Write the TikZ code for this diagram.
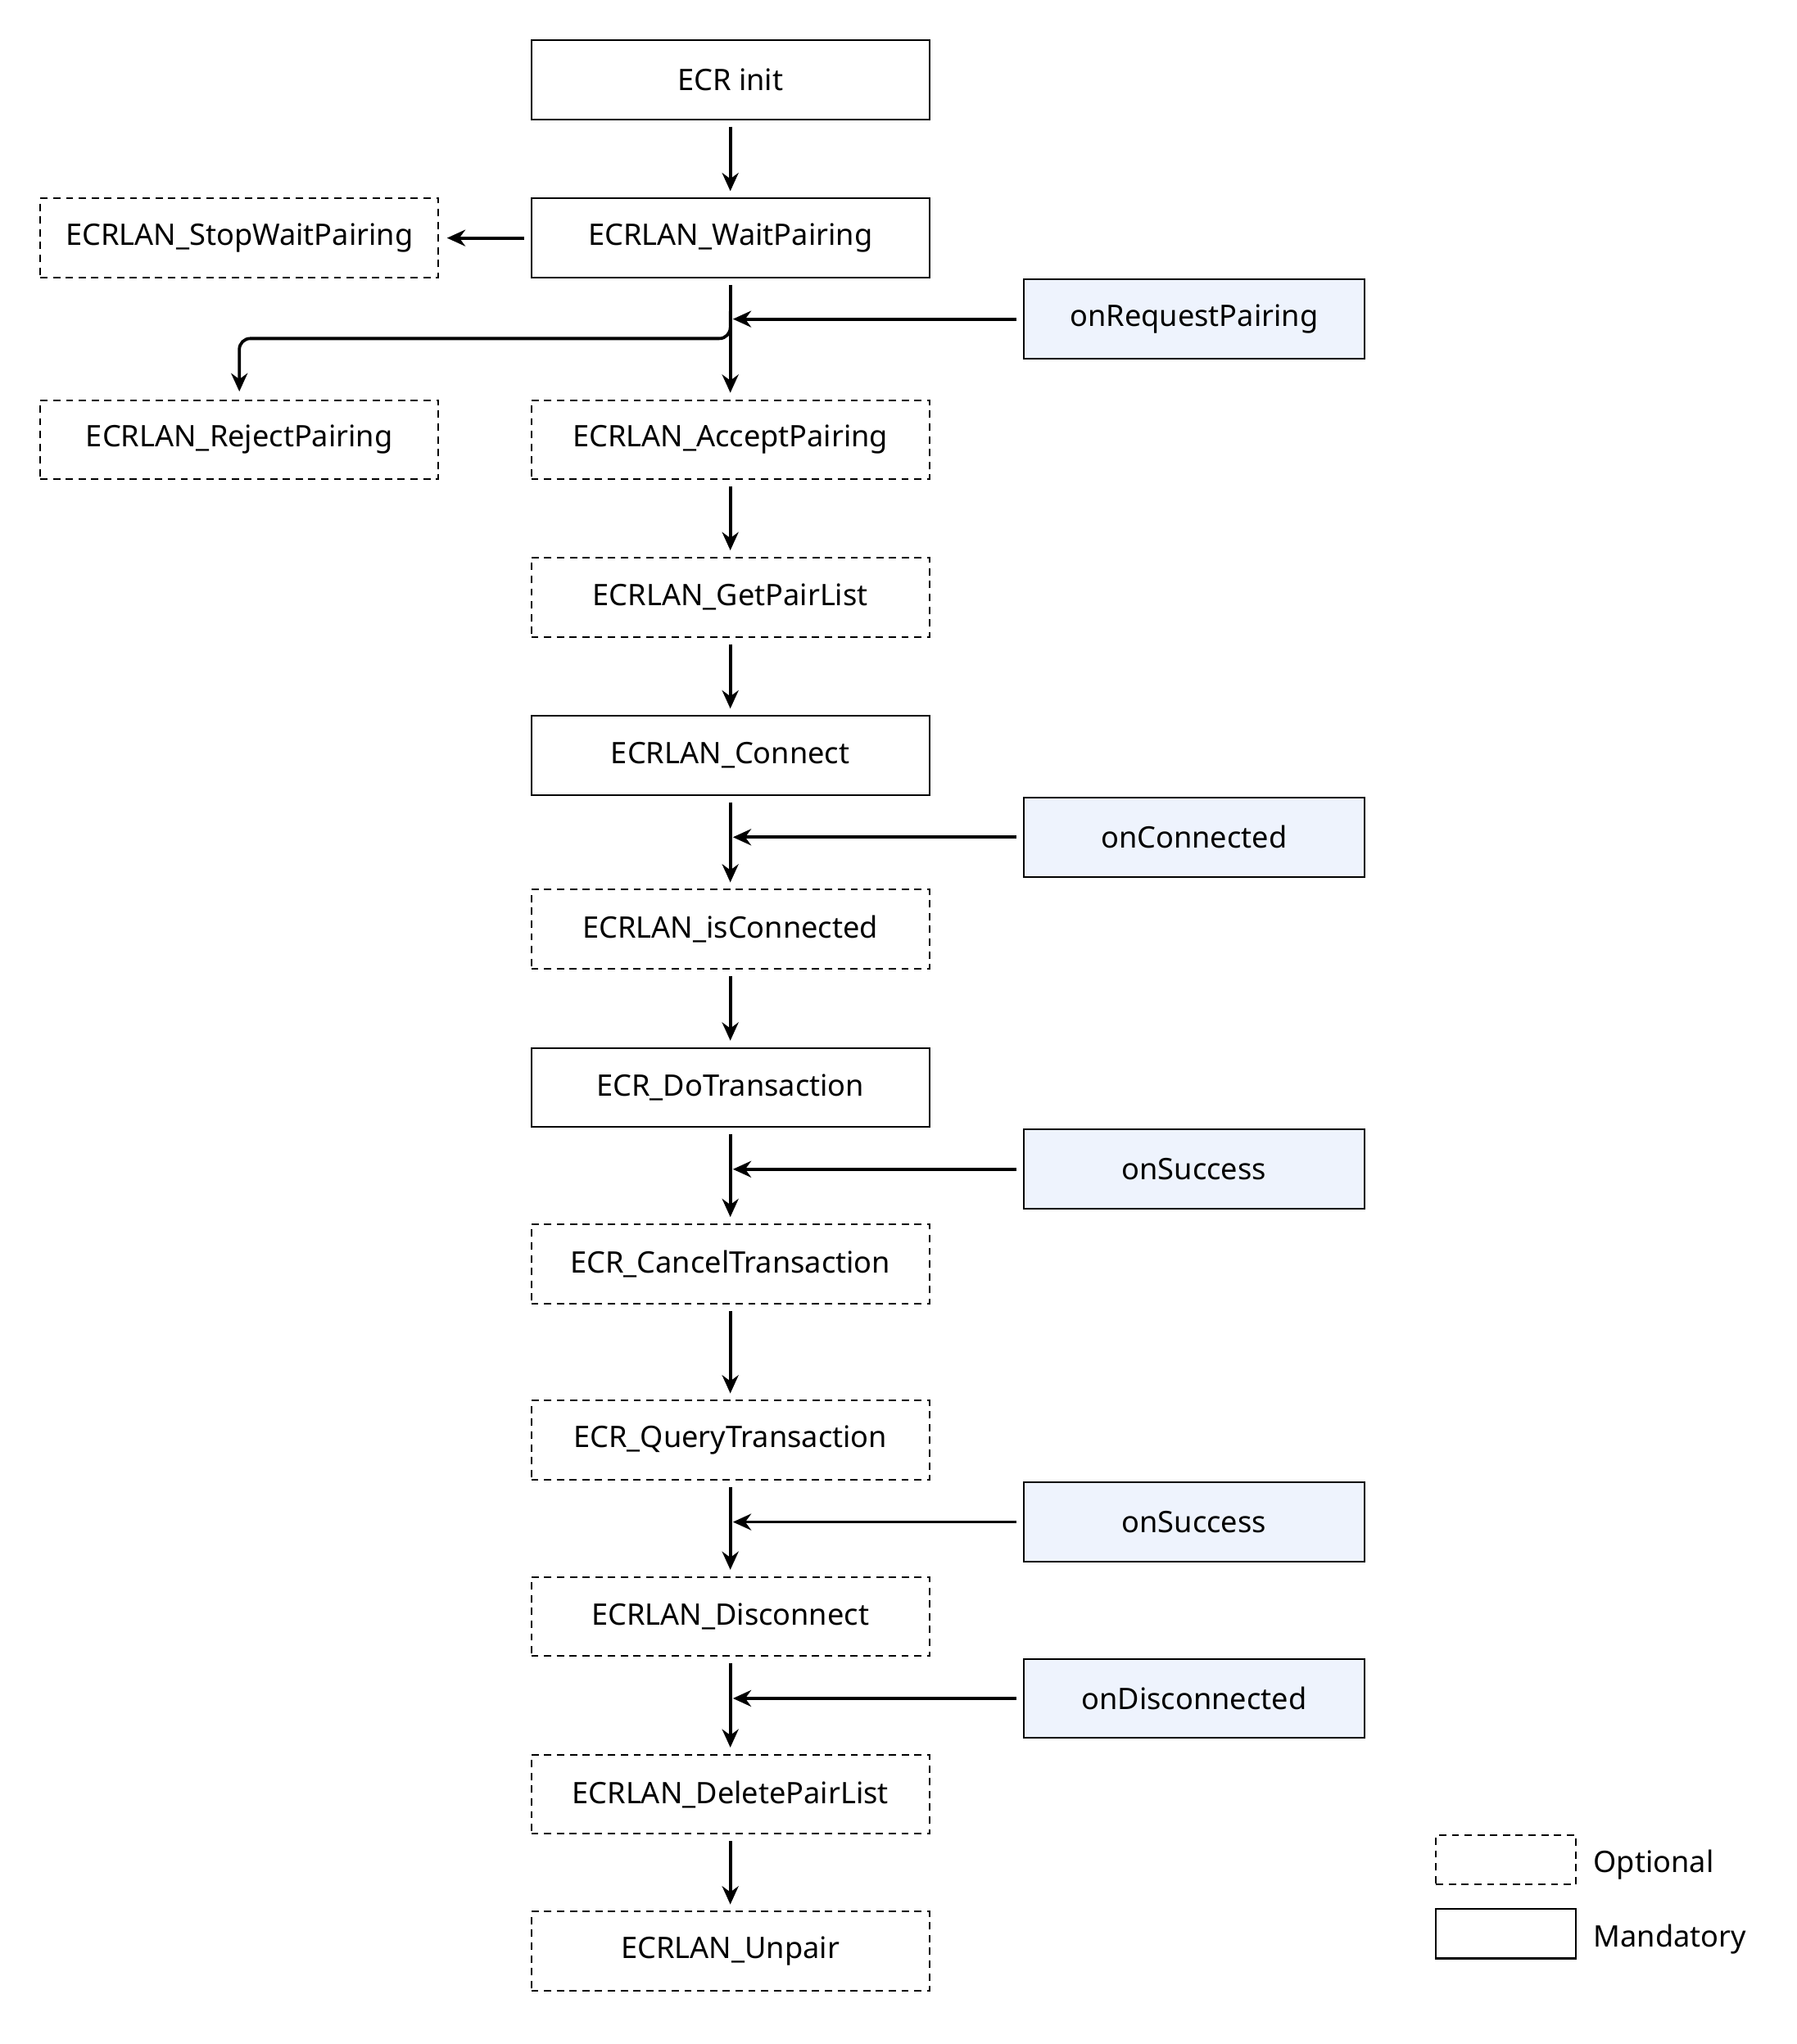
\documentclass[tikz,border=0pt]{standalone}
\usepackage{fontspec}
\setmainfont{Noto Sans}
\usetikzlibrary{arrows.meta}
\definecolor{evfill}{HTML}{EEF3FD}
\begin{document}
\begin{tikzpicture}[x=0.05cm,y=-0.05cm,
  box/.style={draw,line width=1.8pt,minimum width=15.35cm,minimum height=3.05cm,inner sep=0pt,font=\fontsize{32.5}{38}\selectfont},
  opt/.style={box,dash pattern=on 8pt off 6pt},
  ev/.style={box,fill=evfill,minimum width=13.15cm},
  arr/.style={line width=3.4pt,-{Stealth[length=20pt,width=18pt]}}]
\useasboundingbox (0,0) rectangle (1385,1576);
\node[box] (init) at (563,61.5) {ECR init};
\node[box] (wait) at (563,183.5) {ECRLAN\_WaitPairing};
\node[opt] (stop) at (184.5,183.5) {ECRLAN\_StopWaitPairing};
\node[ev] (req) at (920.5,246) {onRequestPairing};
\node[opt] (rej) at (184.5,339) {ECRLAN\_RejectPairing};
\node[opt] (acc) at (563,339) {ECRLAN\_AcceptPairing};
\node[opt] (gpl) at (563,460.5) {ECRLAN\_GetPairList};
\node[box] (con) at (563,582.5) {ECRLAN\_Connect};
\node[ev] (onc) at (920.5,645.5) {onConnected};
\node[opt] (isc) at (563,716.5) {ECRLAN\_isConnected};
\node[box] (dot) at (563,838.5) {ECR\_DoTransaction};
\node[ev] (os1) at (920.5,901.5) {onSuccess};
\node[opt] (cnl) at (563,974.5) {ECR\_CancelTransaction};
\node[opt] (qry) at (563,1110.5) {ECR\_QueryTransaction};
\node[ev] (os2) at (920.5,1173.5) {onSuccess};
\node[opt] (dis) at (563,1246.5) {ECRLAN\_Disconnect};
\node[ev] (ond) at (920.5,1309.5) {onDisconnected};
\node[opt] (del) at (563,1383.5) {ECRLAN\_DeletePairList};
\node[opt] (unp) at (563,1504.5) {ECRLAN\_Unpair};
\node[opt,minimum width=5.4cm,minimum height=1.9cm] (lo) at (1161,1434) {};
\node[box,minimum width=5.4cm,minimum height=1.9cm] (lm) at (1161,1491) {};
\node[anchor=west,font=\fontsize{32.5}{38}\selectfont] (lot) at (1226,1438) {Optional};
\node[anchor=west,font=\fontsize{32.5}{38}\selectfont] (lmt) at (1226,1495) {Mandatory};
\foreach \a/\b in {init/wait,wait/acc,acc/gpl,gpl/con,con/isc,isc/dot,dot/cnl,cnl/qry,qry/dis,dis/del,del/unp}
  \draw[arr] ([yshift=-0.25cm]\a.south) -- ([yshift=0.25cm]\b.north);
\draw[arr] ([xshift=-0.25cm]wait.west) -- ([xshift=0.3cm]stop.east);
\foreach \e in {req,onc,os1,os2,ond}
  \draw[arr] ([xshift=-0.25cm]\e.west) -- (565,0 |- \e.west);
\coordinate (rs) at (563,240);
\draw[arr,rounded corners=12pt] (rs) |- (300,261) -| ([yshift=0.3cm]rej.north);
\end{tikzpicture}
\end{document}
